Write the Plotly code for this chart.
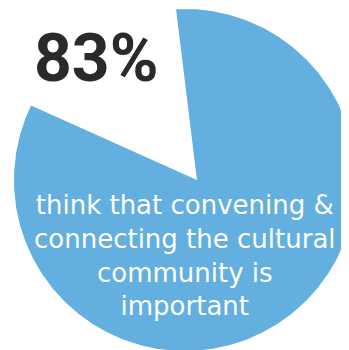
# --------------------------------------------------------------------------------------------------------------------------------------------
# ------------------------------------ single-stat pie: share who think convening matters ----------------------------------------------------
# --------------------------------------------------------------------------------------------------------------------------------------------

import numpy as np
import plotly.graph_objects as go

# data ________________________________________________________________________________________________________________________________________
labels = ["think convening is important", "other"]
values = [83, 17]
headline = "83%"
caption_lines = ["think that convening &", "connecting the cultural", "community is", "important"]

# style _______________________________________________________________________________________________________________________________________
BLUE = '#62AFE0'
DARK = '#2A2A2A'
PAGE_W, PAGE_H = 349, 350
BODY_MARGIN = 8                                   # default page margin around the plot div
W, H = PAGE_W - BODY_MARGIN, PAGE_H - BODY_MARGIN
R_PX = 171                                        # pie radius in px
CX_PX, CY_PX = 185, 180                           # pie centre in page px (from top-left)
START_DEG = 93                                    # first slice starts here, runs clockwise
APEX = (0.07, 0.0)                                # tip of the slice sits a little right of centre


def to_x(px):
    return (px - CX_PX) / R_PX


def to_y(py):
    return (CY_PX - py) / R_PX


# wedge built from the shares, drawn on plain axes so it can run off the page
share = values[0] / sum(values)
theta = np.radians(np.linspace(START_DEG, START_DEG - share * 360, 400))
wx = np.concatenate([[APEX[0]], np.cos(theta), [APEX[0]]])
wy = np.concatenate([[APEX[1]], np.sin(theta), [APEX[1]]])

fig = go.Figure()
fig.add_trace(
    go.Scatter(
        x=wx, y=wy,
        mode='lines',
        fill='toself',
        fillcolor=BLUE,
        line=dict(color=BLUE, width=0),
        hoverinfo='skip',
        showlegend=False,
    )
)

# headline number
fig.add_annotation(
    text=f"<b>{headline}</b>",
    x=to_x(96), y=to_y(58),
    xref='x', yref='y', showarrow=False,
    xanchor='center', yanchor='middle',
    font=dict(size=66, color=DARK, family="Roboto, sans-serif"),
)

# caption inside the slice
fig.add_annotation(
    text="<br>".join(caption_lines),
    x=to_x(185), y=to_y(255),
    xref='x', yref='y', showarrow=False,
    xanchor='center', yanchor='middle', align='center',
    font=dict(size=26, color='white', family="DejaVu Sans, sans-serif"),
)

fig.update_layout(
    width=W, height=H,
    margin=dict(l=0, r=0, t=0, b=0),
    plot_bgcolor='white',
    paper_bgcolor='white',
    xaxis=dict(range=[to_x(BODY_MARGIN), to_x(PAGE_W)], visible=False, fixedrange=True),
    yaxis=dict(range=[to_y(PAGE_H), to_y(BODY_MARGIN)], visible=False, fixedrange=True),
)

fig.write_html("out.html")
